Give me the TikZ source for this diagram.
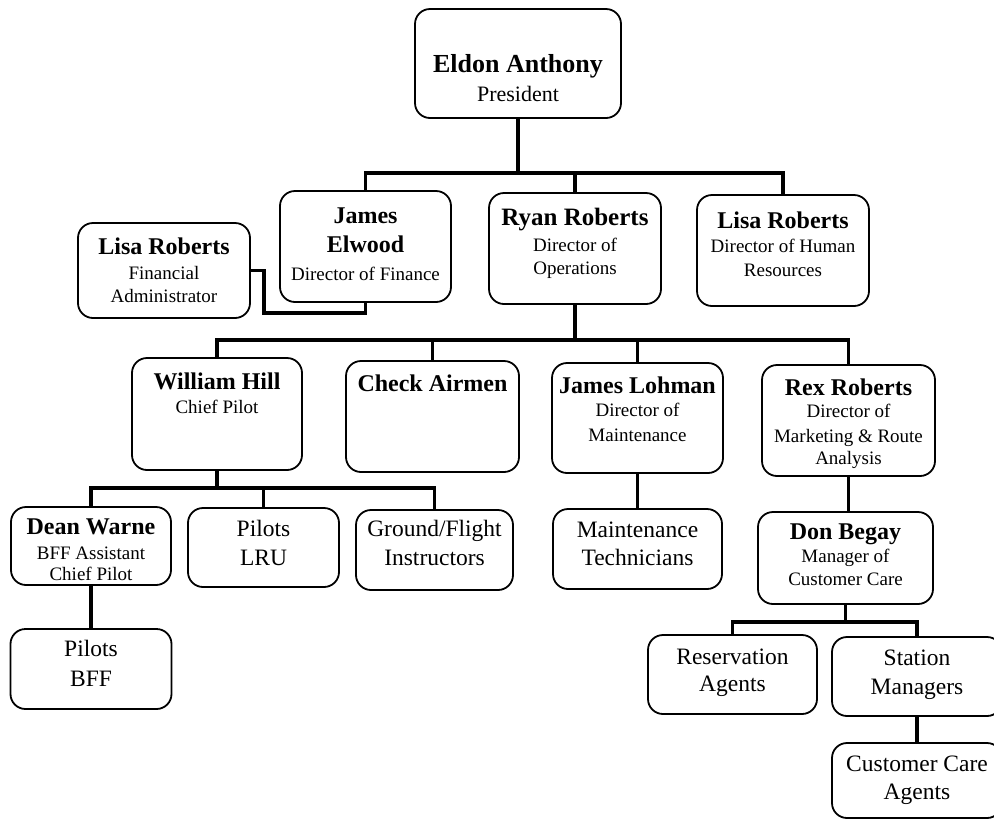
\documentclass[tikz,border=0pt]{standalone}
\usepackage{fontspec}
\setmainfont{Liberation Serif}
\newcommand{\nmf}{\fontsize{24}{28}\bfseries}
\newcommand{\sbf}{\fontsize{19}{23}\selectfont}
\newcommand{\bgf}{\fontsize{23.5}{28}\selectfont}
\begin{document}
\begin{tikzpicture}[x=1pt,y=-1pt,
  orgbox/.style={draw, line width=1.8pt, rounded corners=15pt, inner sep=0pt, fill=white},
  txt/.style={align=center, inner sep=0pt, anchor=north, font=\fontsize{19}{23}\selectfont},
  conn/.style={line width=3.2pt}]
\useasboundingbox (0,0) rectangle (994,820);
\clip (0,0) rectangle (994,820);
\fill[white] (0,0) rectangle (994,820);

% bus coordinates
\coordinate (b1) at (518,173);
\coordinate (b2) at (575,340);
\coordinate (b3) at (217,488);
\coordinate (b4) at (845.5,622);
\coordinate (fa1) at (264,313);

% boxes
\node[orgbox, minimum width=206pt, minimum height=109pt] (eldon) at (518,63.5) {};
\node[orgbox, minimum width=171pt, minimum height=111pt] (elwood) at (365.5,246.5) {};
\node[orgbox, minimum width=172pt, minimum height=111pt] (ryan) at (575,248.5) {};
\node[orgbox, minimum width=172pt, minimum height=111pt] (lisahr) at (783,250.5) {};
\node[orgbox, minimum width=172pt, minimum height=95pt] (lisafa) at (164,270.5) {};
\node[orgbox, minimum width=170pt, minimum height=112pt] (hill) at (217,414) {};
\node[orgbox, minimum width=173pt, minimum height=111pt] (check) at (432.5,416.5) {};
\node[orgbox, minimum width=171pt, minimum height=110pt] (lohman) at (637.5,418) {};
\node[orgbox, minimum width=173pt, minimum height=111pt] (rex) at (848.5,420.5) {};
\node[orgbox, minimum width=160pt, minimum height=78pt] (dean) at (91,546) {};
\node[orgbox, minimum width=151pt, minimum height=79pt] (lru) at (263.5,547.5) {};
\node[orgbox, minimum width=157pt, minimum height=80pt] (ground) at (434.5,550) {};
\node[orgbox, minimum width=169pt, minimum height=80pt] (maint) at (637.5,549) {};
\node[orgbox, minimum width=175pt, minimum height=92pt] (begay) at (845.5,558) {};
\node[orgbox, minimum width=161pt, minimum height=80pt] (bff) at (91,669) {};
\node[orgbox, minimum width=169pt, minimum height=79pt] (resv) at (732.5,674.5) {};
\node[orgbox, minimum width=170pt, minimum height=79pt] (station) at (917,676.5) {};
\node[orgbox, minimum width=170pt, minimum height=75pt] (cca) at (917,780.5) {};

% connectors
\draw[conn] (eldon.south) -- (b1);
\draw[conn] (elwood.north) |- (b1) -| (lisahr.north);
\draw[conn] (ryan.north) -- (ryan.north |- b1);
\draw[conn] (lisafa.east) -| (fa1) -| (elwood.south);
\draw[conn] (ryan.south) -- (b2);
\draw[conn] (hill.north) |- (b2) -| (rex.north);
\draw[conn] (check.north) -- (check.north |- b2);
\draw[conn] (lohman.north) -- (lohman.north |- b2);
\draw[conn] (hill.south) -- (b3);
\draw[conn] (dean.north) |- (b3) -| (ground.north);
\draw[conn] (lru.north) -- (lru.north |- b3);
\draw[conn] (dean.south) -- (bff.north);
\draw[conn] (lohman.south) -- (maint.north);
\draw[conn] (rex.south) -- (rex.south |- begay.north);
\draw[conn] (begay.south) -- (b4);
\draw[conn] (resv.north) |- (b4) -| (station.north);
\draw[conn] (station.south) -- (cca.north);

% texts
\node[txt] (eldonT) at (518,54) {{\fontsize{26}{30}\bfseries Eldon Anthony}\\[6pt]{\fontsize{22}{26}\selectfont President}};
\node[txt] (elwoodT) at (365.5,207.4) {{\nmf James}\\[6pt]{\nmf Elwood}\\[5pt]Director of Finance};
\node[txt] (ryanT) at (575,208.4) {{\fontsize{25}{29}\bfseries Ryan Roberts}\\[3pt]Director of\\Operations};
\node[txt] (lisahrT) at (783,211.4) {{\nmf Lisa Roberts}\\[1pt]Director of Human\\[1pt]Resources};
\node[txt] (lisafaT) at (164,237.4) {{\nmf Lisa Roberts}\\[2pt]Financial\\Administrator};
\node[txt] (hillT) at (217,372.4) {{\nmf William Hill}\\[1pt]Chief Pilot};
\node[txt] (checkT) at (432.5,374.4) {{\nmf Check Airmen}};
\node[txt] (lohmanT) at (637.5,376.4) {{\nmf James Lohman}\\Director of\\[2pt]Maintenance};
\node[txt] (rexT) at (848.5,378.4) {{\nmf Rex Roberts}\\[-1pt]Director of\\[2pt]Marketing \& Route\\[-1pt]Analysis};
\node[txt] (deanT) at (91,518.4) {{\nmf Dean Warne}\\[2pt]BFF Assistant\\[-2pt]Chief Pilot};
\node[txt] (lruT) at (263.5,519.5) {{\bgf Pilots}\\[6pt]{\bgf LRU}};
\node[txt] (groundT) at (434.5,519.5) {{\bgf Ground/Flight}\\[6pt]{\bgf Instructors}};
\node[txt] (maintT) at (637.5,521.5) {{\bgf Maintenance}\\[5pt]{\bgf Technicians}};
\node[txt] (begayT) at (845.5,523.4) {{\nmf Don Begay}\\Manager of\\Customer Care};
\node[txt] (bffT) at (91,639.5) {{\bgf Pilots}\\[7pt]{\bgf BFF}};
\node[txt] (resvT) at (732.5,648.5) {{\bgf Reservation}\\[4pt]{\bgf Agents}};
\node[txt] (stationT) at (917,649.5) {{\bgf Station}\\[6pt]{\bgf Managers}};
\node[txt] (ccaT) at (917,755.5) {{\bgf Customer Care}\\[5pt]{\bgf Agents}};
\end{tikzpicture}
\end{document}
